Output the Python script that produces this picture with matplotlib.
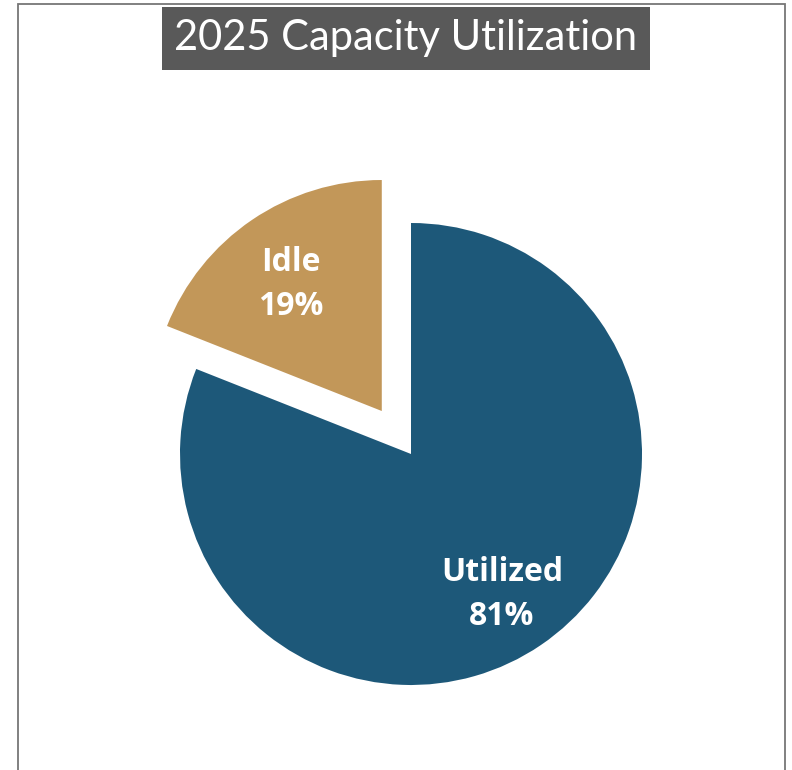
#!/usr/bin/env python3

import matplotlib
matplotlib.use('Agg')
from matplotlib import pyplot as plt
from matplotlib.patches import Rectangle
from matplotlib.transforms import offset_copy

plt.rcParams['font.family'] = ['Open Sans', 'DejaVu Sans']

labels = ['Idle', 'Utilized']
shares = [19, 81]
colors = ['#c29759', '#1d5879']
explode = [0.225, 0.0]

title = '2025 Capacity Utilization'

if __name__ == '__main__':
  W, H = 792, 770
  fig = plt.figure(figsize=(W / 100, H / 100), dpi=100)

  # outer frame, open at the bottom
  fig.patches.append(Rectangle((18 / W, -0.05), (785 - 18) / W, 1.05 - 4 / H,
                               transform=fig.transFigure, fill=False,
                               edgecolor='#767676', lw=1.3, zorder=0))

  # pie: radius 231 px, centred at (411, 454) from top-left
  r = 231
  L = 1.5
  side = 2 * L * r
  cx, cy = 411, H - 454
  ax = fig.add_axes([(cx - side / 2) / W, (cy - side / 2) / H, side / W, side / H])

  def fmt(pct):
    i = int(round(pct))
    return '%s\n%d%%' % (labels[shares.index(i)], i)

  wedges, texts, autotexts = ax.pie(shares, colors=colors, explode=explode,
                                    startangle=90, autopct=fmt, pctdistance=0.7,
                                    wedgeprops=dict(linewidth=0),
                                    textprops=dict(color='white', fontsize=23,
                                                   fontweight='bold',
                                                   linespacing=1.45))
  for t in autotexts:
    t.set_ha('center')
    t.set_va('center')
    # labels sit a little lower than the geometric centre
    t.set_transform(offset_copy(ax.transData, fig=fig, x=0, y=-7, units='dots'))
  ax.set_xlim(-L, L)
  ax.set_ylim(-L, L)
  ax.set_aspect('equal')
  ax.axis('off')

  fig.text(406 / W, 1 - 38 / H, title, ha='center', va='center',
           color='white', fontsize=30, family=['Lato', 'DejaVu Sans'],
           bbox=dict(boxstyle='square,pad=0.3', facecolor='#595959',
                     edgecolor='none'))

  plt.savefig('out.png', dpi=100)
